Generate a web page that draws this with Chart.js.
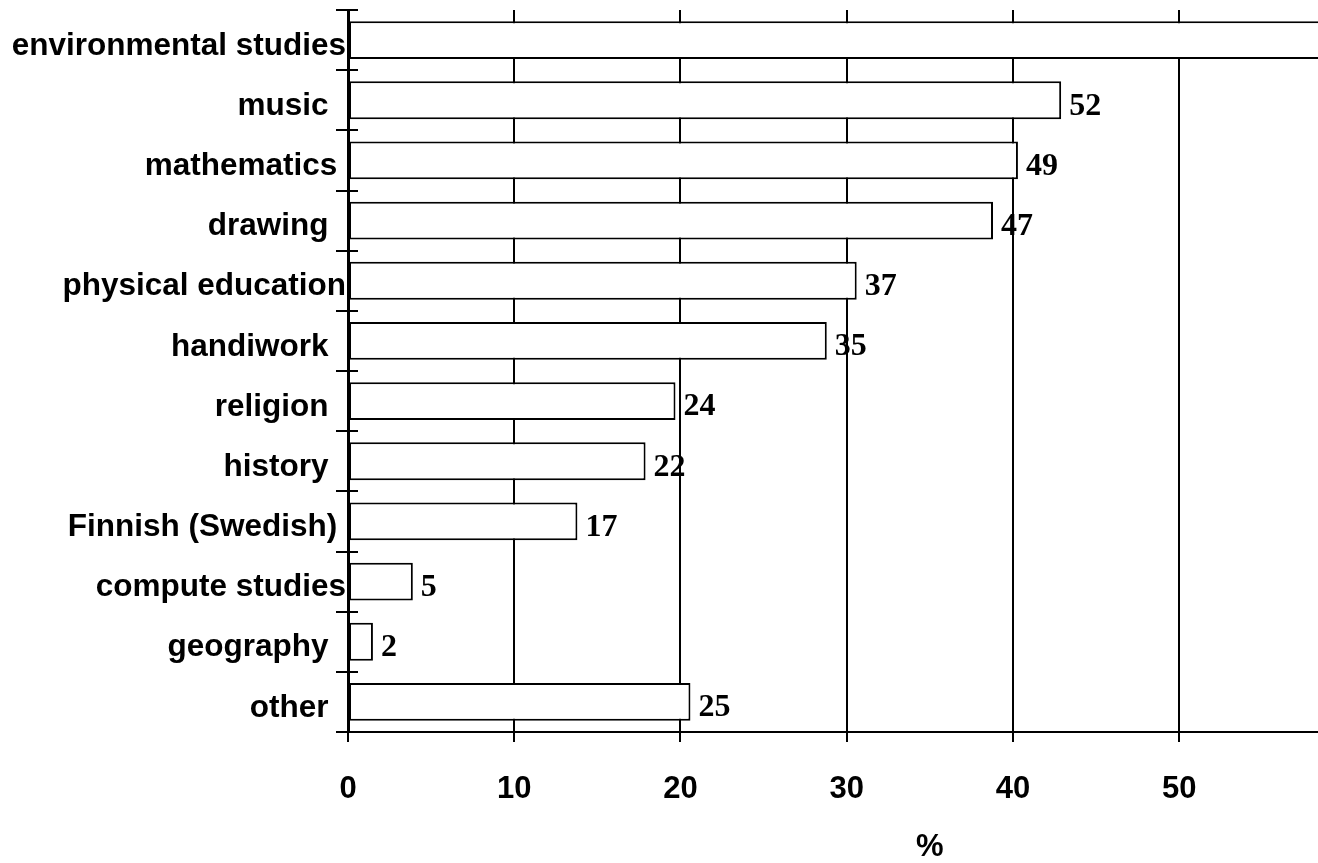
<!DOCTYPE html>
<html lang="en">
<head>
    <meta charset="UTF-8">
    <title>Subjects</title>
    <script src="https://cdn.jsdelivr.net/npm/chart.js"></script>
    <style>
        body {
            margin: 0;
            background: #fff;
        }
        .chart-container {
            position: relative;
            width: 1318px;
            height: 863px;
        }
    </style>
</head>
<body>
    <div class="chart-container">
        <canvas id="subjectChart"></canvas>
    </div>

    <script>
        // Categories (trailing spaces kept as in the original labels)
        const subjects = [
            'environmental studies', 'music  ', 'mathematics ', 'drawing  ',
            'physical education', 'handiwork  ', 'religion  ', 'history  ',
            'Finnish (Swedish) ', 'compute studies', 'geography  ', 'other  '
        ];
        // Bar lengths as drawn on the % axis
        const barLengths = [64, 42.9, 40.3, 38.8, 30.6, 28.8, 19.7, 17.9, 13.8, 3.9, 1.5, 20.6];
        // Numbers printed next to the bars (the first one is cut off in the original)
        const printedValues = [null, '52', '49', '47', '37', '35', '24', '22', '17', '5', '2', '25'];
        // Axis range and ticks
        const axisMax = 58.35;
        const tickStep = 10;
        const axisTitle = '%';

        const sansFont = "'Liberation Sans', Arial, sans-serif";
        const serifFont = "'Liberation Serif', 'Times New Roman', serif";

        // Numbers at the bar ends
        const valueLabels = {
            id: 'valueLabels',
            afterDatasetsDraw(chart) {
                const ctx = chart.ctx;
                const meta = chart.getDatasetMeta(0);
                ctx.save();
                ctx.font = 'bold 32px ' + serifFont;
                ctx.fillStyle = '#000';
                ctx.textAlign = 'left';
                ctx.textBaseline = 'middle';
                meta.data.forEach((bar, i) => {
                    if (printedValues[i] == null) return;
                    ctx.fillText(printedValues[i], bar.x + 8, bar.y + 6);
                });
                ctx.restore();
            }
        };

        // Tick marks crossing the category axis, and the % title
        // (the original axis ran to 70, so its title sat at the middle, 35)
        const axisExtras = {
            id: 'axisExtras',
            afterDraw(chart) {
                const ctx = chart.ctx;
                const y = chart.scales.y;
                const x = chart.scales.x;
                const left = chart.chartArea.left;
                ctx.save();
                ctx.strokeStyle = '#000';
                ctx.lineWidth = 2;
                for (let i = 0; i <= subjects.length; i++) {
                    const py = Math.round(y.getPixelForValue(i - 0.5));
                    ctx.beginPath();
                    ctx.moveTo(left - 12, py);
                    ctx.lineTo(left + 10, py);
                    ctx.stroke();
                }
                ctx.font = 'bold 31px ' + sansFont;
                ctx.fillStyle = '#000';
                ctx.textAlign = 'center';
                ctx.textBaseline = 'middle';
                ctx.fillText(axisTitle, x.getPixelForValue(35), 847);
                ctx.restore();
            }
        };

        const ctx = document.getElementById('subjectChart').getContext('2d');
        new Chart(ctx, {
            type: 'bar',
            data: {
                labels: subjects,
                datasets: [{
                    data: barLengths,
                    backgroundColor: '#fff',
                    borderColor: '#000',
                    borderWidth: 2,
                    borderSkipped: false,
                    barPercentage: 1,
                    categoryPercentage: 0.63
                }]
            },
            options: {
                indexAxis: 'y',
                responsive: true,
                maintainAspectRatio: false,
                animation: false,
                layout: {
                    padding: { top: 10, right: 0, bottom: 0, left: 0 }
                },
                scales: {
                    x: {
                        min: 0,
                        max: axisMax,
                        afterBuildTicks(scale) {
                            scale.ticks = scale.ticks.filter(t => t.value % tickStep === 0);
                        },
                        afterFit(scale) {
                            scale.height = 131;
                            scale.paddingLeft = 0;
                            scale.paddingRight = 0;
                        },
                        ticks: {
                            stepSize: tickStep,
                            color: '#000',
                            padding: 29,
                            font: { family: sansFont, size: 31, weight: 'bold' }
                        },
                        grid: {
                            color: '#000',
                            lineWidth: 2,
                            tickLength: 10
                        },
                        border: {
                            color: '#000',
                            width: 2
                        }
                    },
                    y: {
                        afterFit(scale) {
                            scale.width = 348;
                            scale.paddingTop = 0;
                            scale.paddingBottom = 0;
                        },
                        ticks: {
                            color: '#000',
                            padding: 2,
                            labelOffset: 6,
                            font: { family: sansFont, size: 31.5, weight: 'bold' }
                        },
                        grid: {
                            display: false,
                            drawTicks: false
                        },
                        border: {
                            color: '#000',
                            width: 3
                        }
                    }
                },
                plugins: {
                    legend: { display: false },
                    tooltip: { enabled: false }
                }
            },
            plugins: [valueLabels, axisExtras]
        });
    </script>
</body>
</html>
